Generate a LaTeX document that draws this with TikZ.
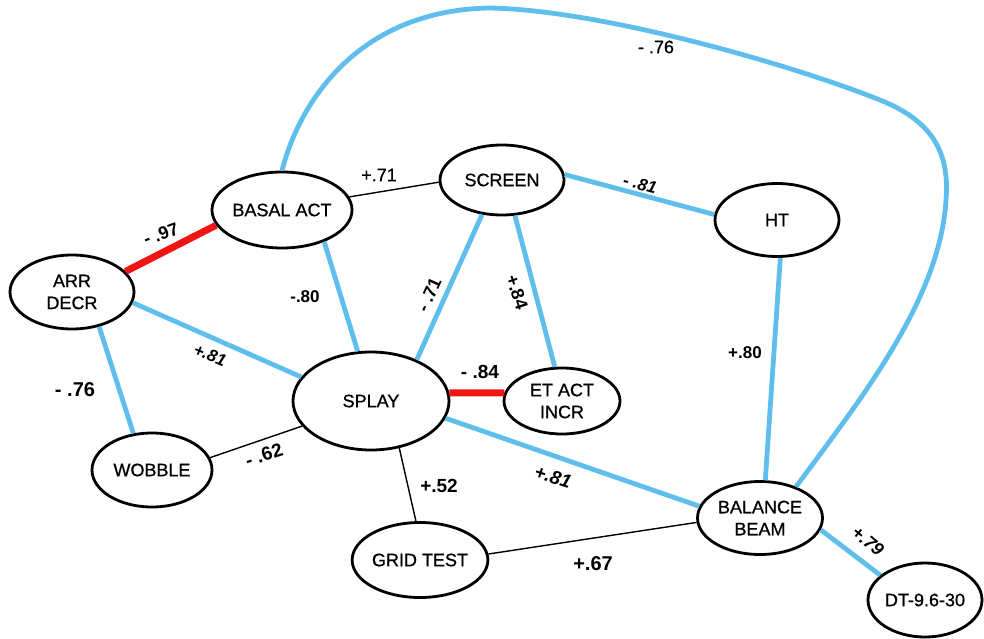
\documentclass[tikz,border=0pt]{standalone}
\usepackage{fontspec}
\setmainfont{Liberation Sans}
\newfontfamily\nodefont[FakeBold=0.8]{Liberation Sans}
\usetikzlibrary{shapes.geometric}
\definecolor{lblue}{RGB}{95,190,235}
\definecolor{lred}{RGB}{240,20,20}
\begin{document}
\begin{tikzpicture}[x=1pt,y=-1pt,
  var/.style={ellipse, draw=black, line width=2.8pt, inner sep=0pt, align=center,
    font=\nodefont\fontsize{18}{22}\selectfont},
  poslink/.style={draw=lblue, line width=4.8pt},
  neglink/.style={draw=lred, line width=7pt},
  thinlink/.style={draw=black, line width=1.4pt},
  lab/.style={inner sep=0pt, font=\bfseries\fontsize{18}{20}\selectfont},
  labr/.style={inner sep=0pt, font=\nodefont\fontsize{18}{20}\selectfont},
  labi/.style={inner sep=0pt, font=\bfseries\itshape\fontsize{17}{20}\selectfont}
]
\useasboundingbox (0,0) rectangle (984,639);
% nodes
\node[var, minimum width=124pt, minimum height=74pt] (arr) at (72,292) {ARR\\DECR};
\node[var, minimum width=124pt, minimum height=76pt] (basal) at (282,210) {BASAL ACT};
\node[var, minimum width=124pt, minimum height=70pt] (screen) at (502,180) {SCREEN};
\node[var, minimum width=124pt, minimum height=73pt] (ht) at (777,220) {HT};
\node[var, minimum width=156pt, minimum height=98pt] (splay) at (371,401) {SPLAY};
\node[var, minimum width=116pt, minimum height=66pt] (etact) at (562,401) {ET ACT\\INCR};
\node[var, minimum width=120pt, minimum height=74pt] (wobble) at (152,470) {WOBBLE};
\node[var, minimum width=124pt, minimum height=75pt] (grid) at (420,560) {GRID TEST};
\node[var, minimum width=125pt, minimum height=73pt] (beam) at (760,518) {BALANCE\\BEAM};
\node[var, minimum width=114pt, minimum height=74pt] (dt) at (925,600) {DT-9.6-30};
% connectors
\draw[neglink] (arr.21) -- (basal.193);
\draw[thinlink] (basal.11) -- (screen.182);
\draw[poslink] (screen.5) -- (ht.175);
\draw[poslink] (basal.-37) -- (splay.105);
\draw[poslink] (arr.-10) -- (splay.161);
\draw[poslink] (arr.-52) -- (wobble.117);
\draw[thinlink] (wobble.12) -- (splay.200);
\draw[poslink] (screen.-120) -- (splay.42);
\draw[poslink] (screen.-70) -- (etact.102);
\draw[neglink] (splay.6) -- (etact.172);
\draw[poslink] (splay.-13) -- (beam.169);
\draw[thinlink] (splay.-59) -- (grid.96);
\draw[thinlink] (grid.5) -- (beam.184);
\draw[poslink] (ht.-85) -- (beam.82);
\draw[poslink] (beam.-11) -- (dt.151);
\draw[poslink] (basal.north) .. controls (300,100) and (360,10) .. (490,8)
  .. controls (600,10) and (790,64) .. (880,100)
  .. controls (930,120) and (950,150) .. (946,200)
  .. controls (940,300) and (860,400) .. (beam.41);
% labels
\node[labr] (l71) at (379,175) {+.71};
\node[labr] (l76t) at (656,47) {- .76};
\node[labi, rotate=-15] (l81a) at (640,184) {- .81};
\node[lab, rotate=20] (l97) at (161,234) {- .97};
\node[lab, font=\bfseries\fontsize{17}{20}\selectfont] (l80a) at (305,297) {-.80};
\node[labi, rotate=-22] (l81b) at (210,355) {+.81};
\node[lab, font=\bfseries\fontsize{20}{22}\selectfont] (l76l) at (75,390) {- .76};
\node[lab, font=\bfseries\fontsize{19}{22}\selectfont, rotate=18] (l62) at (264,455) {- .62};
\node[lab, rotate=66] (l71b) at (429,295) {- .71};
\node[lab, rotate=-72] (l84a) at (517,292) {+.84};
\node[lab, font=\bfseries\fontsize{19}{22}\selectfont] (l84b) at (480,372) {- .84};
\node[lab, font=\bfseries\fontsize{17}{20}\selectfont] (l80b) at (745,353) {+.80};
\node[lab, font=\bfseries\fontsize{19}{22}\selectfont] (l52) at (439,486) {+.52};
\node[labi, font=\bfseries\itshape\fontsize{19}{22}\selectfont, rotate=-18] (l81c) at (553,477) {+.81};
\node[lab, font=\bfseries\fontsize{20}{22}\selectfont] (l67) at (593,564) {+.67};
\node[labi, font=\bfseries\itshape\fontsize{18}{20}\selectfont, rotate=-40] (l79) at (868,541) {+.79};
\end{tikzpicture}
\end{document}
